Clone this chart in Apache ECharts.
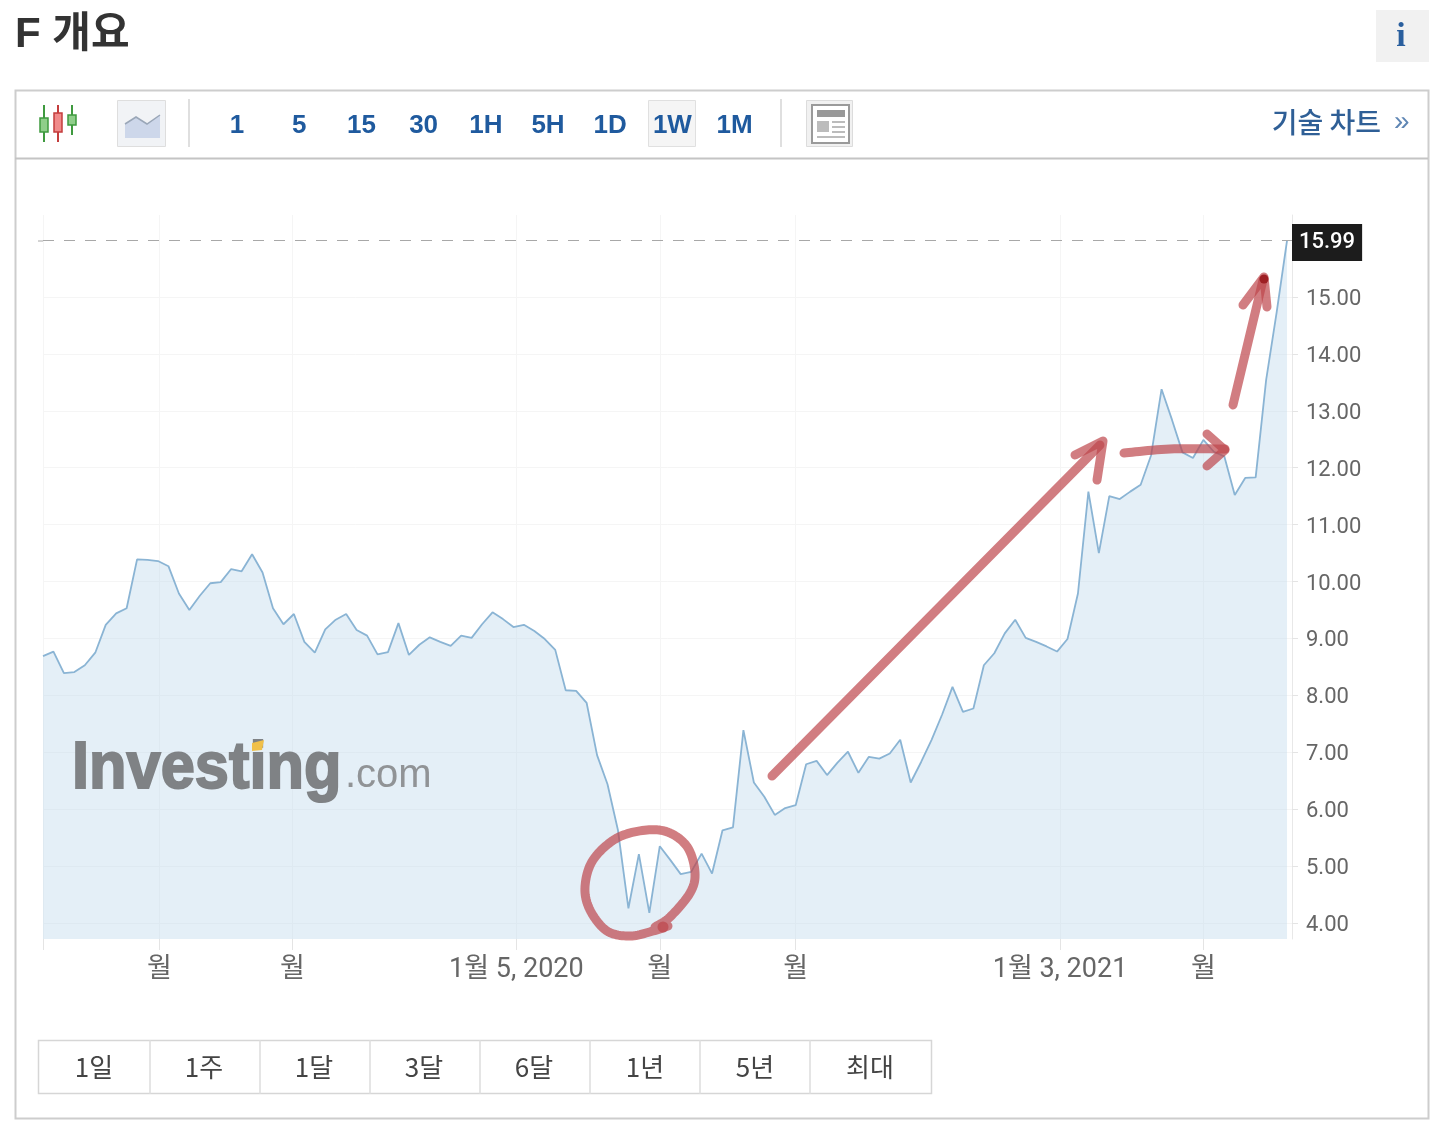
<!DOCTYPE html>
<html lang="ko">
<head>
<meta charset="utf-8">
<title>F 개요</title>
<style>html,body{margin:0;padding:0;background:#fff}#chart{width:1440px;height:1134px}</style>
<script src="https://cdn.jsdelivr.net/npm/echarts@6/dist/echarts.min.js"></script>
</head>
<body>
<div id="chart"></div>
<script>
const weekDates = [
'2019-02-22','2019-03-01','2019-03-08','2019-03-15','2019-03-22','2019-03-29','2019-04-05','2019-04-12','2019-04-19','2019-04-26',
'2019-05-03','2019-05-10','2019-05-17','2019-05-24','2019-05-31','2019-06-07','2019-06-14','2019-06-21','2019-06-28','2019-07-05',
'2019-07-12','2019-07-19','2019-07-26','2019-08-02','2019-08-09','2019-08-16','2019-08-23','2019-08-30','2019-09-06','2019-09-13',
'2019-09-20','2019-09-27','2019-10-04','2019-10-11','2019-10-18','2019-10-25','2019-11-01','2019-11-08','2019-11-15','2019-11-22',
'2019-11-29','2019-12-06','2019-12-13','2019-12-20','2019-12-27','2020-01-03','2020-01-10','2020-01-17','2020-01-24','2020-01-31',
'2020-02-07','2020-02-14','2020-02-21','2020-02-28','2020-03-06','2020-03-13','2020-03-20','2020-03-27','2020-04-03','2020-04-10',
'2020-04-17','2020-04-24','2020-05-01','2020-05-08','2020-05-15','2020-05-22','2020-05-29','2020-06-05','2020-06-12','2020-06-19',
'2020-06-26','2020-07-03','2020-07-10','2020-07-17','2020-07-24','2020-07-31','2020-08-07','2020-08-14','2020-08-21','2020-08-28',
'2020-09-04','2020-09-11','2020-09-18','2020-09-25','2020-10-02','2020-10-09','2020-10-16','2020-10-23','2020-10-30','2020-11-06',
'2020-11-13','2020-11-20','2020-11-27','2020-12-04','2020-12-11','2020-12-18','2020-12-25','2021-01-01','2021-01-08','2021-01-15',
'2021-01-22','2021-01-29','2021-02-05','2021-02-12','2021-02-19','2021-02-26','2021-03-05','2021-03-12','2021-03-19','2021-03-26',
'2021-04-02','2021-04-09','2021-04-16','2021-04-23','2021-04-30','2021-05-07','2021-05-14','2021-05-21','2021-05-28','2021-06-04'];
const closePrices = [
8.69,8.77,8.39,8.41,8.53,8.75,9.24,9.44,9.53,10.39,
10.38,10.36,10.27,9.79,9.50,9.75,9.97,9.99,10.22,10.18,
10.48,10.16,9.53,9.25,9.43,8.94,8.75,9.16,9.33,9.43,
9.15,9.05,8.72,8.76,9.27,8.71,8.89,9.02,8.94,8.87,
9.05,9.01,9.25,9.46,9.34,9.20,9.24,9.13,8.99,8.80,
8.09,8.08,7.87,6.95,6.44,5.63,4.26,5.21,4.18,5.35,
5.11,4.86,4.90,5.22,4.87,5.63,5.68,7.39,6.47,6.22,
5.90,6.02,6.07,6.79,6.85,6.60,6.82,7.01,6.64,6.92,
6.89,6.98,7.22,6.47,6.83,7.22,7.66,8.15,7.71,7.77,
8.53,8.74,9.09,9.33,9.01,8.94,8.86,8.77,8.99,9.79,
11.58,10.50,11.50,11.45,11.58,11.70,12.22,13.38,12.84,12.27,
12.17,12.49,12.28,12.20,11.52,11.82,11.83,13.54,14.72,15.99];
const yTickValues = [4,5,6,7,8,9,10,11,12,13,14,15];
const xTickDates = ['2019-02-22','2019-05-11','2019-08-08','2020-01-05','2020-04-10','2020-07-10','2021-01-03','2021-04-09'];
const xTickLabels = ['','월','월','1월 5, 2020','월','월','1월 3, 2021','월'];
const lastPrice = 15.99;
const toolbarLabels = ['1','5','15','30','1H','5H','1D','1W','1M'];
const rangeLabels = ['1일','1주','1달','3달','6달','1년','5년','최대'];

const FONT = "Roboto, 'Noto Sans CJK KR', sans-serif";
const KR = "'Noto Sans CJK KR', sans-serif";
const ARIAL = "'Liberation Sans', 'Noto Sans CJK KR', sans-serif";
const parse = s => echarts.time.parse(s).getTime();
const tickTimes = xTickDates.map(parse);
const labelByTime = {};
tickTimes.forEach((t, i) => { labelByTime[t] = xTickLabels[i]; });

const g = [];
function rect(x, y, w, h, fill, stroke, lw, z) {
  g.push({type:'rect', z:z||5, shape:{x, y, width:w, height:h}, style:{fill:fill||'none', stroke:stroke||'none', lineWidth:lw||1}});
}
function line(x1, y1, x2, y2, stroke, lw, z) {
  g.push({type:'line', z:z||5, shape:{x1, y1, x2, y2}, style:{stroke, lineWidth:lw||1}});
}
function text(t, x, y, font, fill, align, z) {
  g.push({type:'text', z:z||6, style:{text:t, x, y, font, fill, textAlign:align||'center', textVerticalAlign:'middle'}});
}
function poly(points, fill, z) {
  g.push({type:'polygon', z:z||5, shape:{points}, style:{fill}});
}
function ink(points, lw) {
  g.push({type:'polyline', z:50, shape:{points},
    style:{fill:'none', stroke:'rgba(190,70,75,0.7)', lineWidth:lw||9, lineCap:'round', lineJoin:'round'}});
}
// Rounds a hand-drawn pen stroke through its guide points (annotation only, not data).
function penStroke(p) {
  const out = [];
  for (let i = 0; i < p.length - 1; i++) {
    const a = p[Math.max(i-1,0)], b = p[i], c = p[i+1], d = p[Math.min(i+2,p.length-1)];
    for (let k = 0; k < 12; k++) {
      const t = k / 12, t2 = t*t, t3 = t2*t;
      out.push([0,1].map(j => 0.5*(2*b[j] + (c[j]-a[j])*t + (2*a[j]-5*b[j]+4*c[j]-d[j])*t2 + (3*b[j]-a[j]-3*c[j]+d[j])*t3)));
    }
  }
  out.push(p[p.length-1]);
  return out;
}

// page chrome
text('F 개요', 15, 35, "bold 42px " + ARIAL, '#333', 'left');
rect(1376, 10, 53, 52, '#f1f1f1');
text('i', 1401, 37, "bold 34px 'Liberation Serif', serif", '#2a5f9e');
rect(15.5, 90.5, 1413, 1028, 'none', '#cdcdcd', 2, 1);
line(15, 158.5, 1428, 158.5, '#c4c4c4', 2);

// candle icon
[[44,105,142,118,132,'#8fce8a','#3f9a3f'],[58,105,142,113,132,'#f08a8a','#c43c3c'],[72,105,135,115,125,'#8fce8a','#3f9a3f']].forEach(c => {
  line(c[0], c[1], c[0], c[2], c[6], 2);
  rect(c[0]-4, c[3], 8, c[4]-c[3], c[5], c[6], 1.5);
});
// line icon
rect(117.5, 100.5, 48, 46, '#f1f3f6', '#dedede', 1);
poly([[125,124],[136,117],[147,124],[160,115],[160,138],[125,138]], '#cdd7ea');
g.push({type:'polyline', z:6, shape:{points:[[125,124],[136,117],[147,124],[160,115]]}, style:{fill:'none', stroke:'#9aa7b8', lineWidth:1.5}});
line(189, 99, 189, 147, '#d4d4d4', 1.5);
line(781, 99, 781, 147, '#d4d4d4', 1.5);
// interval buttons
rect(648.5, 100.5, 47, 46, '#f5f5f5', '#e0e0e0', 1);
toolbarLabels.forEach((t, i) => text(t, 237 + i * 62.2, 126, "bold 26px " + ARIAL, '#1f5a9e'));
// news icon
rect(806.5, 100.5, 46, 46, '#f1f1f1', '#dcdcdc', 1);
rect(812, 105, 37, 38, '#fff', '#9a9a9a', 2);
rect(817, 110, 28, 7, '#999');
rect(817, 121, 12, 11, '#bcbcbc');
[122, 127, 132].forEach(y => line(832, y, 845, y, '#bcbcbc', 2));
line(817, 137, 845, 137, '#bcbcbc', 2);
text('기술 차트', 1381, 122, "500 28px " + KR, '#2f5f96', 'right');
text('»', 1394, 122, "28px " + ARIAL, '#5f86b4', 'left');

// range buttons
rect(38.5, 1040.5, 893, 53, '#fff', '#d6d6d6', 1.5);
[150, 260, 370, 480, 590, 700, 810].forEach(x => line(x, 1040, x, 1094, '#dcdcdc', 1.5));
[94, 204, 314, 424, 534, 645, 755, 870].forEach((x, i) => text(rangeLabels[i], x, 1067, "26px " + KR, '#444'));

// watermark
g.push({type:'text', z:10, x:72, y:770, scaleX:0.93, style:{text:'Investing', x:0, y:0, font:"bold 66px " + ARIAL, fill:'#7f8285', stroke:'#7f8285', lineWidth:2, textAlign:'left', textVerticalAlign:'middle'}});
g.push({type:'text', z:10, style:{text:'.com', x:345, y:776, font:"40px " + ARIAL, fill:'#909396', textAlign:'left', textVerticalAlign:'middle'}});
poly([[252,743],[264,740],[262,750],[252,751]], '#f0c04a', 11);
// continuation of the last-price dash past the plot edge
line(38, 241, 43, 241, '#a8a8a8', 1);

// hand-drawn annotations
ink(penStroke([[668,926],[653,931],[630,936],[607,931],[590,910],[585,887],[593,860],[617,838],[647,830],[670,833],[688,848],[695,873],[690,893],[670,917],[655,927]]));
g.push({type:'circle', z:50, shape:{cx:663, cy:927, r:5.5}, style:{fill:'rgba(190,70,75,0.7)'}});
ink([[772,776],[1100,445]]);
ink([[1075,455],[1103,441],[1097,480]]);
ink(penStroke([[1124,453],[1170,449],[1225,449]]));
ink([[1207,434],[1225,450],[1207,466]]);
ink([[1233,405],[1263,280]]);
ink([[1243,305],[1264,277],[1267,307]]);
g.push({type:'circle', z:51, shape:{cx:1264, cy:279, r:4.5}, style:{fill:'#9e1f24'}});

const chart = echarts.init(document.getElementById('chart'), null, {renderer:'canvas'});
chart.setOption({
  animation:false,
  backgroundColor:'#fff',
  grid:{left:43, right:148, top:215, bottom:195, containLabel:false},
  xAxis:{
    type:'value',
    scale:true,
    min:parse(weekDates[0]),
    max:parse('2021-06-07') + 8 * 3600e3,
    axisLine:{show:false},
    axisTick:{show:true, customValues:tickTimes, length:11, lineStyle:{color:'#e4e4e4', width:1}},
    splitLine:{show:true, lineStyle:{color:'#f5f5f5', width:1}},
    axisLabel:{
      customValues:tickTimes, margin:18, hideOverlap:false, showMinLabel:true, showMaxLabel:true,
      fontFamily:FONT, fontSize:27, color:'#666',
      formatter:v => labelByTime[v] || ''
    }
  },
  yAxis:{
    type:'value',
    position:'right',
    min:3.72,
    max:16.44,
    axisLine:{show:true, lineStyle:{color:'#e8e8e8', width:1}},
    axisTick:{show:true, customValues:yTickValues, length:6, lineStyle:{color:'#e4e4e4'}},
    splitLine:{show:true, lineStyle:{color:'#f5f5f5', width:1}},
    axisLabel:{customValues:yTickValues, margin:14,
      rich:{t:{fontFamily:FONT, fontSize:22, color:'#666', padding:[5,0,0,0]}},
      formatter:v => '{t|' + v.toFixed(2) + '}'}
  },
  series:[{
    type:'line',
    name:'F',
    data:weekDates.map((d, i) => [parse(d), closePrices[i]]),
    showSymbol:false,
    symbol:'none',
    lineStyle:{color:'#8ab4d4', width:1.8},
    areaStyle:{color:'#bcd6ea', opacity:0.4},
    markLine:{
      silent:true, symbol:'none',
      lineStyle:{color:'#a8a8a8', type:[11,10], width:1},
      label:{show:true, position:'end', distance:0, formatter:lastPrice.toFixed(2), offset:[0,2],
        backgroundColor:'#1c1c1c', color:'#fff', fontFamily:FONT, fontSize:22, fontWeight:500, padding:[12,7,3,7]},
      data:[{yAxis:lastPrice}]
    }
  }],
  graphic:g
});
</script>
</body>
</html>
